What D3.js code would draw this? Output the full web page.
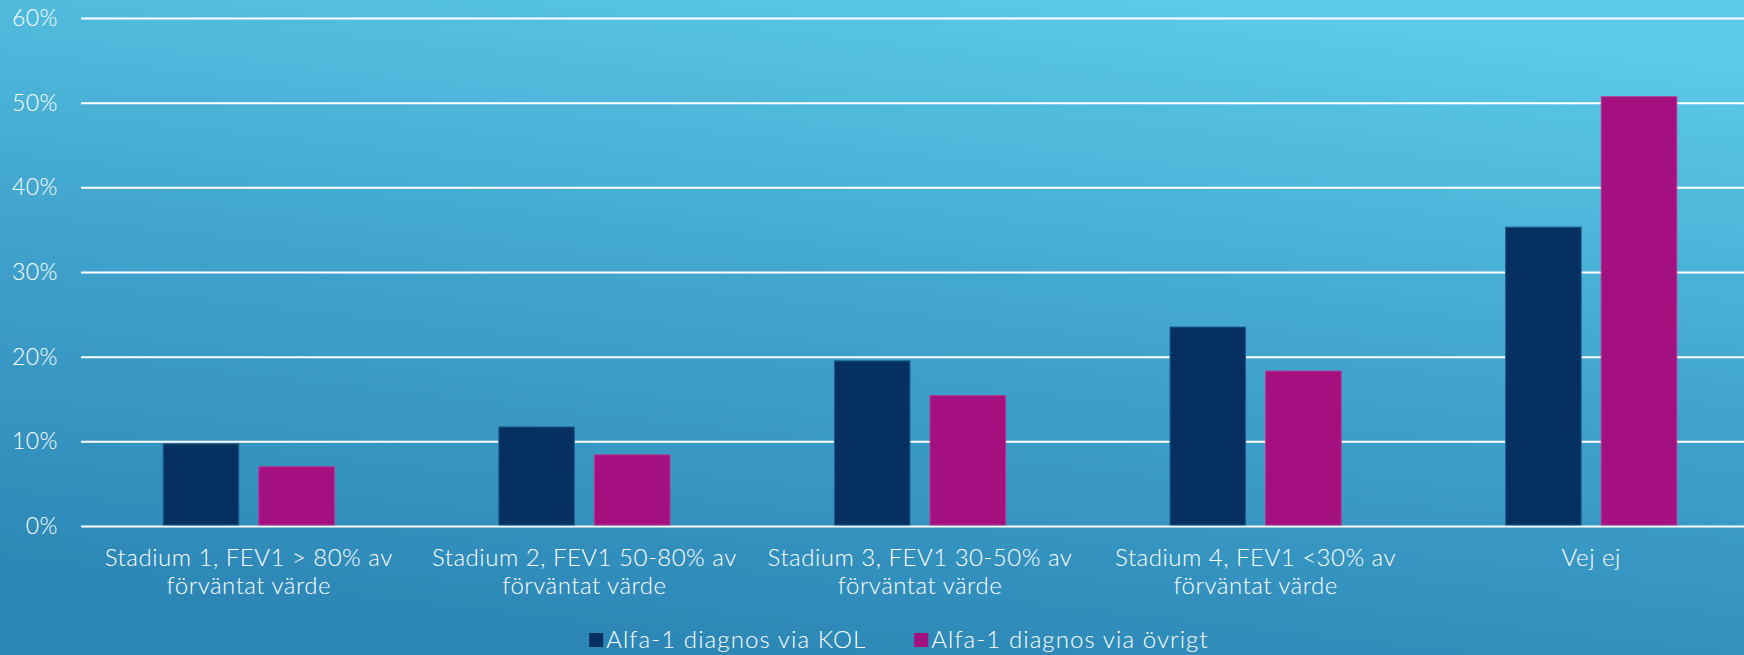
<!DOCTYPE html>
<html>
<head>
<meta charset="utf-8">
<script src="https://cdn.jsdelivr.net/npm/d3@7"></script>
<style>
  html, body { margin: 0; padding: 0; overflow: hidden; }
  svg { display: block; }
  text { font-family: Lato, "Open Sans", sans-serif; font-weight: 300; fill: #ffffff; }
</style>
</head>
<body>
<script>
// Chart data
const categories = [
  "Stadium 1, FEV1 > 80% av förväntat värde",
  "Stadium 2, FEV1 50-80% av förväntat värde",
  "Stadium 3, FEV1 30-50% av förväntat värde",
  "Stadium 4, FEV1 <30% av förväntat värde",
  "Vej ej"
];
const categoryLines = [
  ["Stadium 1, FEV1 > 80% av", "förväntat värde"],
  ["Stadium 2, FEV1 50-80% av", "förväntat värde"],
  ["Stadium 3, FEV1 30-50% av", "förväntat värde"],
  ["Stadium 4, FEV1 <30% av", "förväntat värde"],
  ["Vej ej"]
];
const seriesNames = ["Alfa-1 diagnos via KOL", "Alfa-1 diagnos via övrigt"];
const viaKOL = [9.7, 11.7, 19.5, 23.5, 35.3];
const viaOvrigt = [7.0, 8.4, 15.4, 18.3, 50.7];
const yTicks = [0, 10, 20, 30, 40, 50, 60];

const W = 1744, H = 655;
const seriesColors = ["#05305f", "#a4107f"];
const seriesStroke = ["#1d5d8c", "#b8378f"];
const seriesValues = [viaKOL, viaOvrigt];

const svg = d3.select("body").append("svg")
  .attr("width", W).attr("height", H);

// Background gradient
const defs = svg.append("defs");
const grad = defs.append("linearGradient")
  .attr("id", "bg").attr("x1", "0.35").attr("y1", "1").attr("x2", "0.65").attr("y2", "0");
grad.append("stop").attr("offset", "0").attr("stop-color", "#2c86b5");
grad.append("stop").attr("offset", "0.55").attr("stop-color", "#42a6cf");
grad.append("stop").attr("offset", "1").attr("stop-color", "#5bc9e7");
svg.append("rect").attr("width", W).attr("height", H).attr("fill", "url(#bg)");

const plotLeft = 81, plotRight = 1759;
const y = d3.scaleLinear().domain([0, 60]).range([526, 18]);
const x0 = d3.scaleBand().domain(categories).range([plotLeft, plotRight]).padding(0);
const groupW = x0.bandwidth() * 0.51;
const x1 = d3.scaleBand().domain(seriesNames)
  .range([(x0.bandwidth() - groupW) / 2, (x0.bandwidth() + groupW) / 2])
  .paddingInner(0.21).paddingOuter(0);

// Gridlines and y-axis labels
const yAxis = d3.axisLeft(y).tickValues(yTicks).tickFormat(d => d + "%")
  .tickSize(-(W - plotLeft)).tickPadding(23);
const gy = svg.append("g").attr("transform", `translate(${plotLeft},0)`).call(yAxis);
gy.select(".domain").remove();
gy.selectAll(".tick line").attr("stroke", "#ffffff").attr("stroke-width", 2);
gy.selectAll(".tick text")
  .attr("fill", "#ffffff")
  .style("font-family", "Lato, 'Open Sans', sans-serif")
  .style("font-weight", "300")
  .style("letter-spacing", "0.5px")
  .style("font-size", "23px");

// Bars
const groups = svg.append("g").selectAll("g")
  .data(categories)
  .join("g")
  .attr("transform", d => `translate(${x0(d)},0)`);

groups.selectAll("rect")
  .data((d, i) => seriesNames.map((s, k) => ({ s, k, v: seriesValues[k][i] })))
  .join("rect")
  .attr("x", d => x1(d.s))
  .attr("y", d => y(d.v))
  .attr("width", x1.bandwidth())
  .attr("height", d => y(0) - y(d.v) - 1)
  .attr("fill", d => seriesColors[d.k])
  .attr("stroke", d => seriesStroke[d.k])
  .attr("stroke-width", 1);

// Category labels
const labels = svg.append("g").selectAll("text")
  .data(categories)
  .join("text")
  .attr("text-anchor", "middle")
  .style("font-size", "24px")
  .style("letter-spacing", "0.5px")
  .attr("x", d => x0(d) + x0.bandwidth() / 2)
  .attr("y", 566);
labels.each(function(d, i) {
  const t = d3.select(this);
  categoryLines[i].forEach((line, j) => {
    t.append("tspan")
      .attr("x", x0(d) + x0.bandwidth() / 2)
      .attr("y", 566 + j * 28)
      .text(line);
  });
});

// Legend
const legend = svg.append("g");
const legendItems = legend.selectAll("g").data(seriesNames).join("g");
legendItems.append("rect")
  .attr("width", 14).attr("height", 14)
  .attr("y", 633)
  .attr("fill", (d, i) => seriesColors[i]);
legendItems.append("text")
  .attr("x", 17).attr("y", 648)
  .style("font-size", "24px")
  .style("letter-spacing", "1.1px")
  .text(d => d);
// position items side by side, centred under the plot
let offsets = [], cur = 0;
legendItems.each(function(d, i) {
  offsets.push(cur);
  cur += this.getBBox().width + (i === 0 ? 48 : 0);
});
const legendStart = 899 - cur / 2;
legendItems.attr("transform", (d, i) => `translate(${legendStart + offsets[i]},0)`);
</script>
</body>
</html>
